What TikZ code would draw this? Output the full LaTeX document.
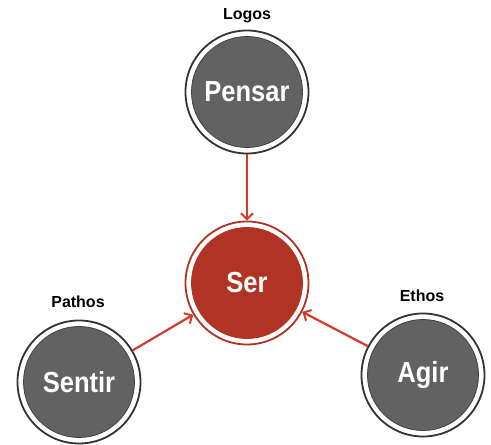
\documentclass[tikz,border=0pt]{standalone}
\usepackage{fontspec}
\setmainfont{Liberation Sans}
\usetikzlibrary{arrows.meta}
\definecolor{ringgray}{HTML}{333333}
\definecolor{fillgray}{HTML}{626262}
\definecolor{ringred}{HTML}{B03222}
\definecolor{fillred}{HTML}{B13323}
\definecolor{arrred}{HTML}{D13B2A}
\begin{document}
\begin{tikzpicture}[x=1pt,y=1pt,
  ringnode/.style 2 args={circle, minimum size=123pt, inner sep=0pt, draw=#1, line width=1.8pt, fill=white,
    path picture={\filldraw[fill=#2, draw=#1!70!#2, line width=0.8pt] (path picture bounding box.center) circle (55.5pt);},
    text=white, font=\fontsize{29}{29}\selectfont\bfseries},
  tag/.style={font=\fontsize{16}{16}\selectfont\bfseries, text=black, inner sep=0pt},
  arr/.style={draw=arrred, line width=2.2pt, -{Straight Barb[length=6pt,width=12pt,line width=2pt]}}]
\useasboundingbox (0,0) rectangle (491,445);
\node[ringnode={ringgray}{fillgray}] (pensar) at (247,353) {\scalebox{0.88}[1]{Pensar}};
\node[ringnode={ringred}{fillred}] (ser) at (247,162) {\scalebox{0.88}[1]{Ser}};
\node[ringnode={ringgray}{fillgray}] (sentir) at (79,63) {\scalebox{0.88}[1]{Sentir}};
\node[ringnode={ringgray}{fillgray}] (agir) at (423,70) {\scalebox{0.88}[1]{Agir}};
\node[tag] (logos) at (247,429) {Logos};
\node[tag] (pathos) at (78,143) {Pathos};
\node[tag] (ethos) at (422,149) {Ethos};
\draw[arr] (pensar) -- (ser);
\draw[arr] (sentir) -- (ser);
\draw[arr] (agir) -- (ser);
\end{tikzpicture}
\end{document}
